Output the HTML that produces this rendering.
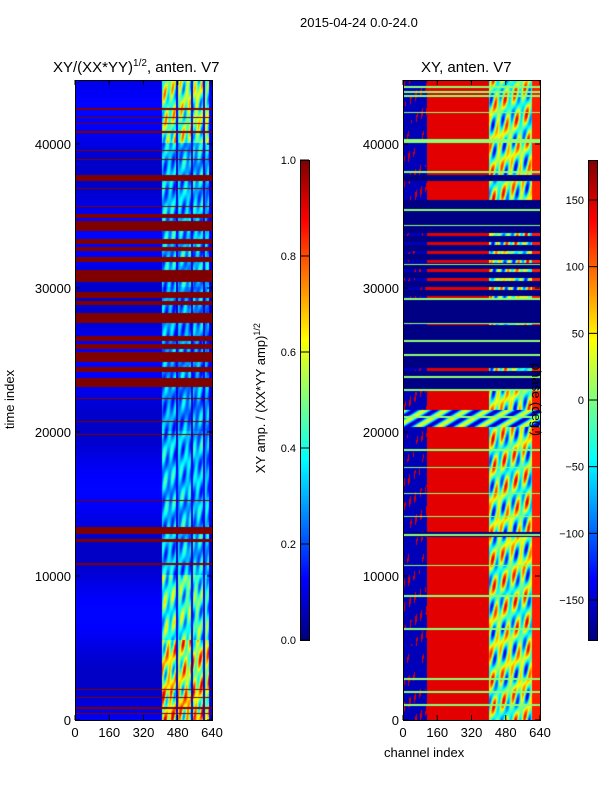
<!DOCTYPE html>
<html><head><meta charset="utf-8"><style>
body{margin:0;background:#fff;width:600px;height:800px;overflow:hidden;position:relative;font-family:"Liberation Sans",sans-serif;color:#000}
.t{position:absolute;font-size:13px;white-space:nowrap}
canvas{position:absolute}
</style></head><body>
<div class="t" style="left:300px;top:15px;font-size:13px">2015-04-24 0.0-24.0</div>
<div class="t" style="left:53px;top:58px;font-size:15px">XY/(XX*YY)<sup style="font-size:10px">1/2</sup>, anten. V7</div>
<div class="t" style="left:421px;top:59px;font-size:15px">XY, anten. V7</div>
<canvas id="hl" width="137" height="640" style="left:75px;top:80px"></canvas>
<canvas id="hr" width="137" height="640" style="left:403px;top:80px"></canvas>
<canvas id="cb1" width="9" height="480" style="left:300px;top:160px"></canvas>
<canvas id="cb2" width="9" height="480" style="left:588px;top:160px"></canvas>
<svg id="ov" width="600" height="800" style="position:absolute;left:0;top:0" font-family="Liberation Sans, sans-serif" font-size="13"></svg>
<div class="t" style="left:-20px;top:392px;transform:rotate(-90deg);font-size:13px">time index</div>
<div class="t" style="left:384px;top:745px">channel index</div>
<div class="t" style="left:180px;top:390px;transform:rotate(-90deg);width:160px;text-align:center">XY amp. / (XX*YY amp)<sup style="font-size:9px">1/2</sup></div>
<div class="t" style="left:500px;top:392px;transform:rotate(90deg)">phase (deg.)</div>
<script>
const timeTicks=[0,10000,20000,30000,40000];
const chanTicks=[0,160,320,480,640];
const ampTicks=[0.0,0.2,0.4,0.6,0.8,1.0];
const phaseTicks=[-150,-100,-50,0,50,100,150];
const tMax=44444, chMax=640;
const ampRedBands=[[37400,37800],[34800,35100],[33950,34650],[33050,33350],[32500,32800],[31800,32100],[30350,31200],[29300,29700],[28750,29050],[27550,28250],[26250,26600],[25700,26100],[24850,25500],[24150,24500],[23100,23700],[20650,20750],[12850,13400],[12300,12500],[2050,2150]];
const ampRedLines=[42400,41800,41400,40800,39500,38900,36900,35600,22300,19800,15200,10800,1500,800,400];
const ampSegStart=[0,2000,5500,10000,20000,30000,40000];
const ampSegLevel=[0.62,0.58,0.42,0.3,0.26,0.3,0.5];
const phaseNavyBands=[[37400,37800],[33950,36100],[27700,29000],[24500,27400],[22900,23700],[12700,13000]];
const phaseGreenLines=[43900,43600,43300,42150,40100,40250,38000,35400,34300,31600,29200,27500,26300,25300,23800,22900,21000,18700,17500,15700,14100,12800,10700,8600,6300,2800,1900,1000];
const phaseNoisyBand=[20300,21500];
const phaseColRegions=[0,110,400,600,640];
const phaseColLevels=[-160,145,0,125];

function jet(v){v=Math.max(0,Math.min(1,v));
 const r=Math.max(0,Math.min(1,1.5-Math.abs(4*v-3))),g=Math.max(0,Math.min(1,1.5-Math.abs(4*v-2))),b=Math.max(0,Math.min(1,1.5-Math.abs(4*v-1)));
 return [r*255|0,g*255|0,b*255|0];}
function inB(t,bands){for(const b of bands)if(t>=b[0]&&t<=b[1])return true;return false;}
function nearL(t,lines,w){for(const l of lines)if(Math.abs(t-l)<=w)return true;return false;}
function tex(x,y){return Math.max(0,Math.min(1,0.5+0.3*Math.sin(x*0.5+y*0.08)*Math.cos(y*0.13-x*0.3)+0.2*Math.sin(y*0.21+x*0.9)));}
const tPx=tMax/640;
function draw(id,fn){const c=document.getElementById(id),ctx=c.getContext('2d'),im=ctx.createImageData(137,640);
 for(let y=0;y<640;y++){const t=(639-y)*tPx;for(let x=0;x<137;x++){const ch=x*chMax/137;const col=fn(t,ch,x,y);const i=(y*137+x)*4;im.data[i]=col[0];im.data[i+1]=col[1];im.data[i+2]=col[2];im.data[i+3]=255;}}
 ctx.putImageData(im,0,0);}
draw('hl',(t,ch,x,y)=>{
 if(inB(t,ampRedBands)||nearL(t,ampRedLines,40))return jet(1);
 if(ch>=405&&ch<625&&!(Math.abs(ch-475)<5||Math.abs(ch-545)<5||Math.abs(ch-600)<4)){
  let k=0;for(let i=0;i<ampSegStart.length;i++)if(t>=ampSegStart[i])k=i;
  return jet(ampSegLevel[k]*(0.4+1.2*tex(x,y)));}
 return jet(0.1+0.03*Math.sin(y*0.05));
});
draw('hr',(t,ch,x,y)=>{
 const pv=v=>jet((v+180)/360);
 if(nearL(t,phaseGreenLines,60))return pv(5);
 if(inB(t,phaseNavyBands))return pv(-178);
 if(t>=phaseNoisyBand[0]&&t<=phaseNoisyBand[1])return pv(-60+100*Math.sin(x*0.3+y*0.5));
 if(t>22900&&t<33950&&(Math.floor(y/3)%3!==0))return pv(-178);
 let k=0;for(let i=0;i<phaseColRegions.length-1;i++)if(ch>=phaseColRegions[i])k=i;
 let v=phaseColLevels[k];
 if(k===2)v=-150+300*tex(x*0.8,y);
 if(k===0&&tex(x*1.5,y*1.2)>0.78)v=150;
 return pv(v);
});
function cbar(id){const c=document.getElementById(id),ctx=c.getContext('2d');for(let y=0;y<480;y++){const col=jet(1-y/479);ctx.fillStyle=`rgb(${col})`;ctx.fillRect(0,y,9,1);}}
cbar('cb1');cbar('cb2');
const ns='http://www.w3.org/2000/svg',ov=document.getElementById('ov');
function el(tag,a,txt){const e=document.createElementNS(ns,tag);for(const k in a)e.setAttribute(k,a[k]);if(txt!==undefined)e.textContent=txt;ov.appendChild(e);return e;}
const yT=t=>720-t*0.0144;
[[75,'left'],[403,'right']].forEach(([x0,nm])=>{
 const f=el('rect',{x:x0+0.5,y:80.5,width:137,height:640,fill:'none',stroke:'#000'});
 
 
 timeTicks.forEach(t=>{const y=yT(t);
  el('line',{x1:x0,x2:x0+5,y1:y,y2:y,stroke:'#000'});el('line',{x1:x0+137,x2:x0+132,y1:y,y2:y,stroke:'#000'});
  const tx=el('text',{x:x0-4,y:y+5,'text-anchor':'end'},String(t));
  
  });
 chanTicks.forEach(c=>{const x=x0+c*137/640;
  el('line',{x1:x,x2:x,y1:720,y2:715,stroke:'#000'});el('line',{x1:x,x2:x,y1:80,y2:85,stroke:'#000'});
  const tx=el('text',{x:x,y:737,'text-anchor':'middle'},String(c));
  
  });
});
[['cb1',300,ampTicks,v=>640-v*480,v=>v.toFixed(1)],['cb2',588,phaseTicks,v=>400-v*480/360,v=>String(v).replace('-','\u2212')]].forEach(([id,x0,ticks,ys,fmt])=>{
 el('rect',{x:x0+0.5,y:160.5,width:9,height:480,fill:'none',stroke:'#000'});
 ticks.forEach(v=>{const y=ys(v);el('line',{x1:x0,x2:x0+9,y1:y,y2:y,stroke:'#000'});
  const tx=el('text',{x:x0-4,y:y+4,'text-anchor':'end','font-size':11},fmt(v));
  
  });
});
</script>
</body></html>
